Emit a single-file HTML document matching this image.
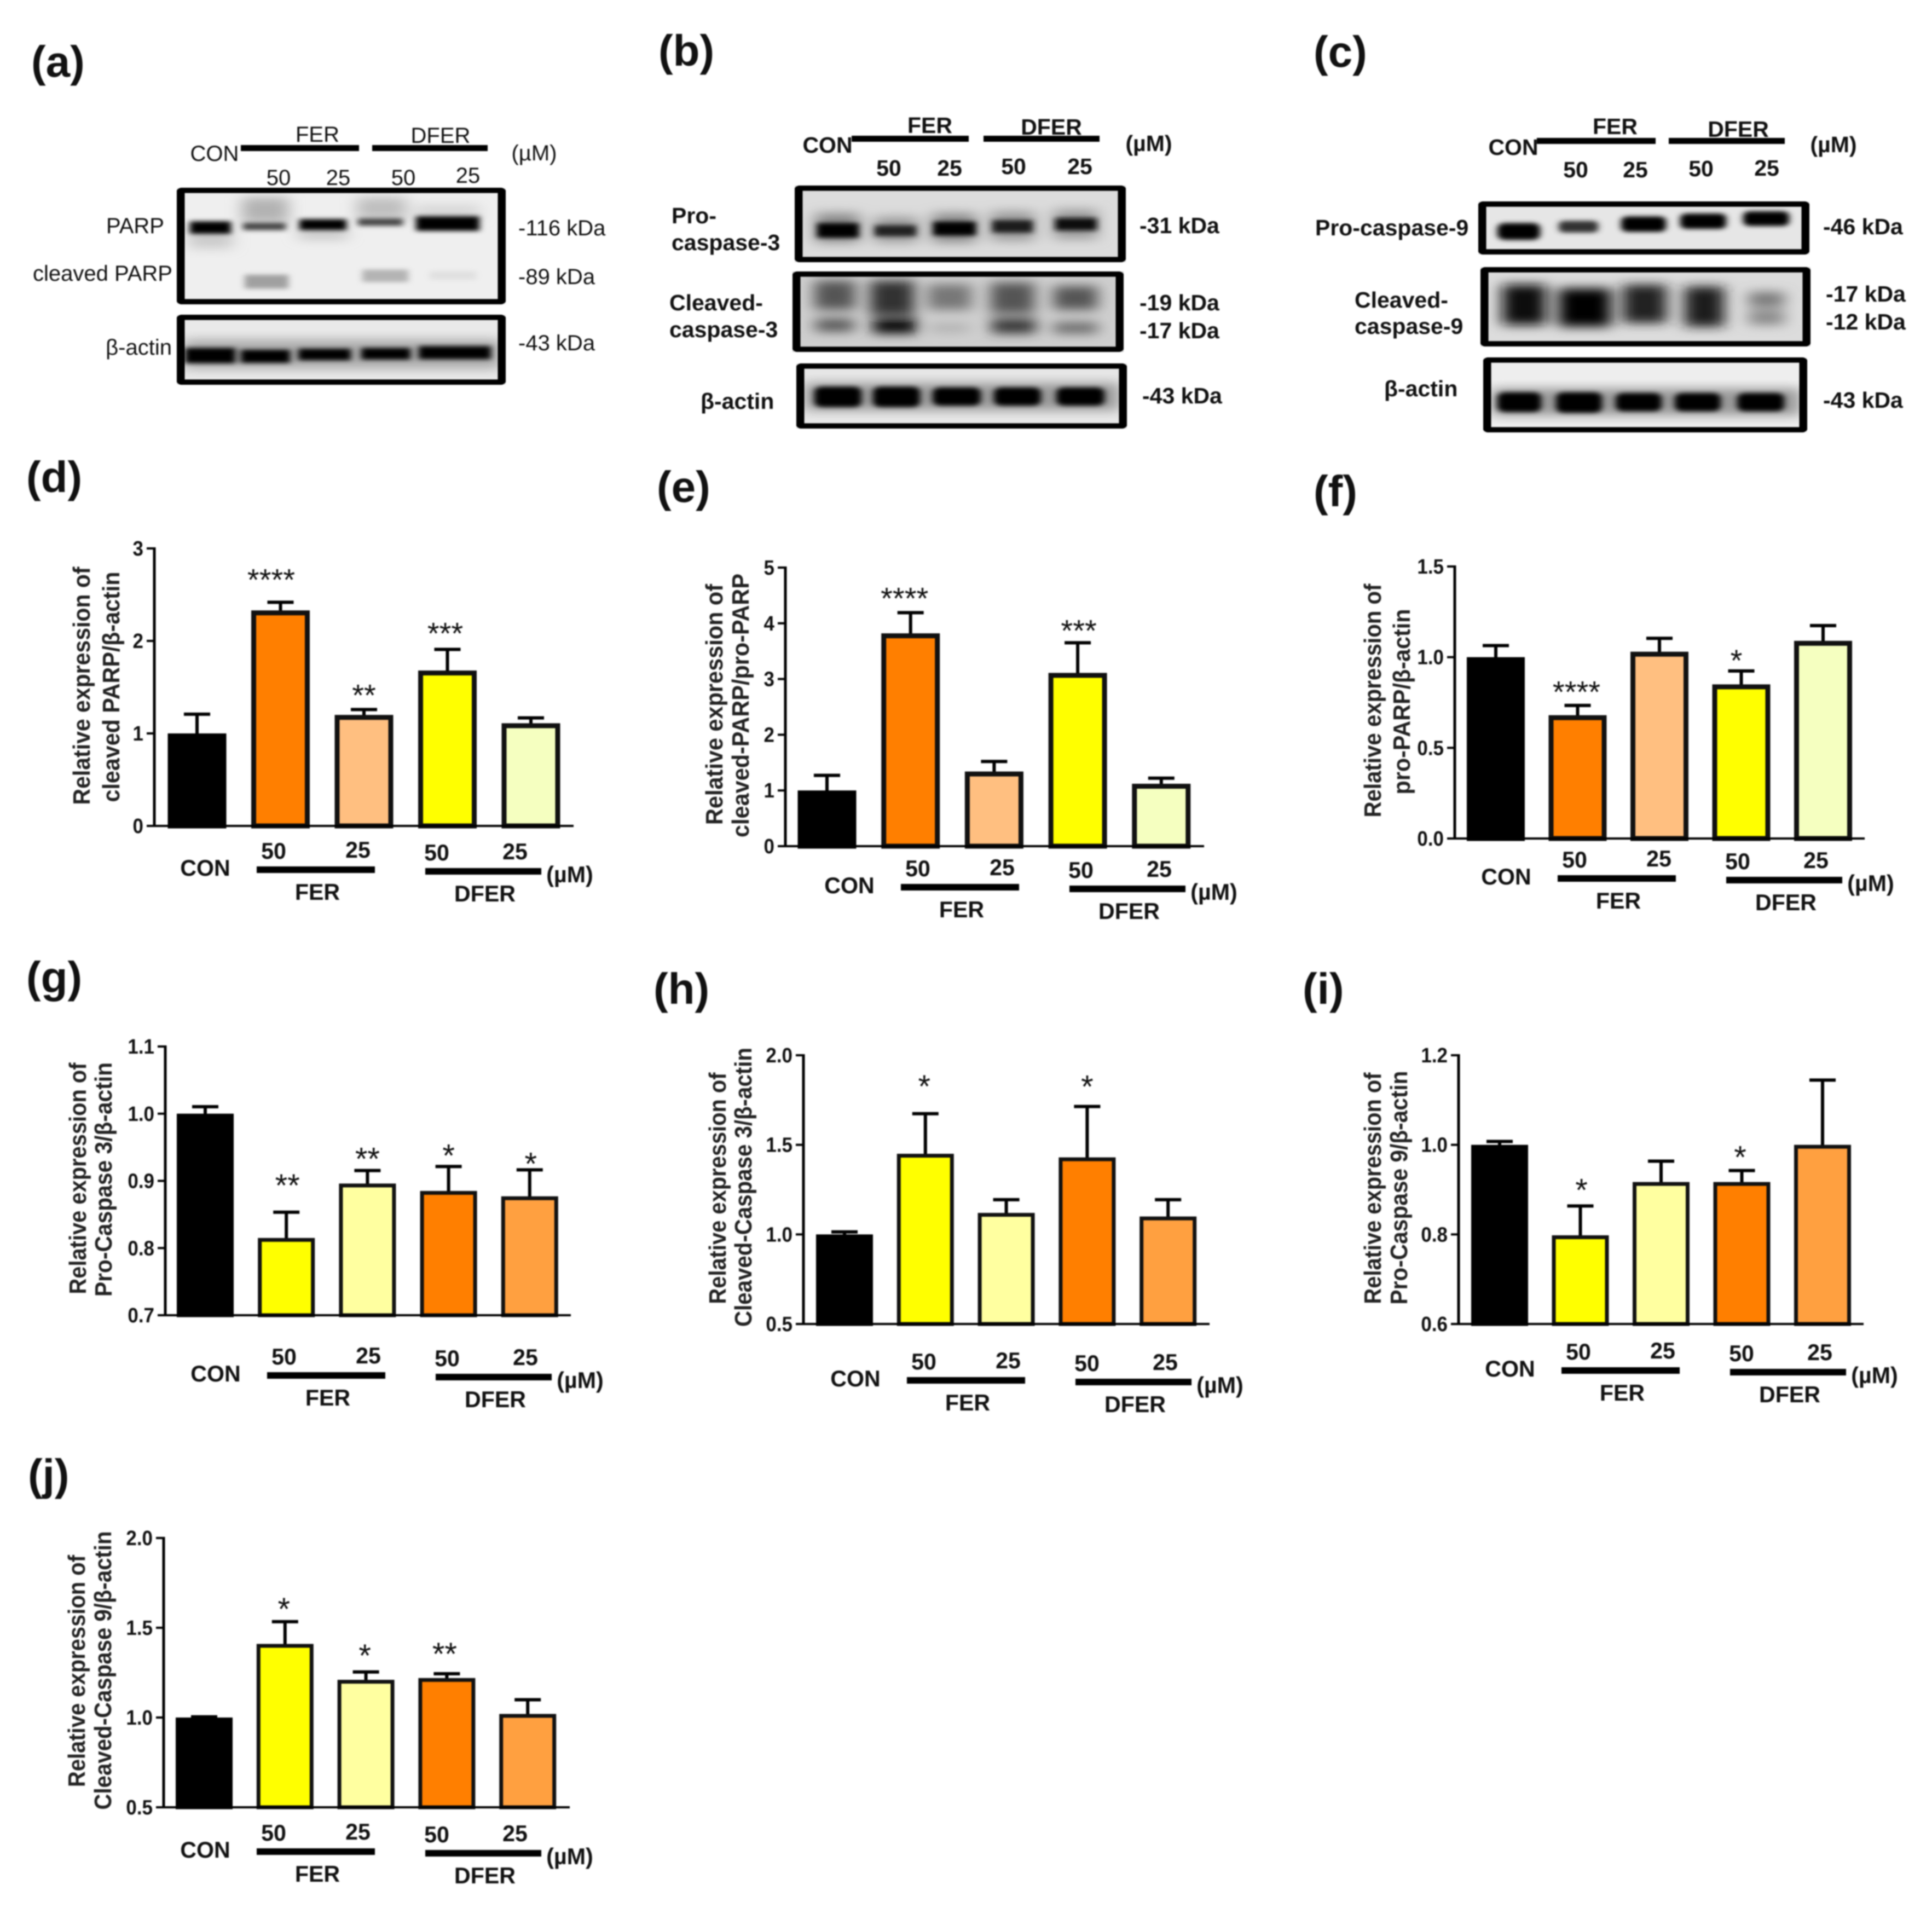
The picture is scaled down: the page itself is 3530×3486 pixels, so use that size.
<!DOCTYPE html>
<html lang="en">
<head>
<meta charset="utf-8">
<title>Western blots and relative expression bar charts</title>
<style>
html,body{margin:0;padding:0;background:#fff;}
#figure{display:block;width:3530px;height:3486px;filter:blur(1px);}
text{font-family:"Liberation Sans",sans-serif;fill:#111;}
.letter{font-size:80px;font-weight:bold;}
.r{font-size:40px;}
.b{font-size:41px;font-weight:bold;}
.m{text-anchor:middle;}
.e{text-anchor:end;}
.yt{font-size:44px;font-weight:bold;text-anchor:middle;fill:#222;}
</style>
</head>
<body>
<svg id="figure" xmlns="http://www.w3.org/2000/svg" width="3530" height="3486" viewBox="0 0 3530 3486">
<defs>
<filter id="blur-l" x="-30%" y="-30%" width="160%" height="160%"><feGaussianBlur stdDeviation="14"/></filter>
<filter id="blur-m" x="-30%" y="-60%" width="160%" height="220%"><feGaussianBlur stdDeviation="6"/></filter>
</defs>
<rect width="3530" height="3486" fill="#fff"/>

<!-- panel letters -->
<g>
<text class="letter" x="57" y="140">(a)</text>
<text class="letter" x="1203" y="120">(b)</text>
<text class="letter" x="2400" y="122">(c)</text>
<text class="letter" x="48" y="899">(d)</text>
<text class="letter" x="1200" y="917">(e)</text>
<text class="letter" x="2400" y="925">(f)</text>
<text class="letter" x="48" y="1813">(g)</text>
<text class="letter" x="1194" y="1834">(h)</text>
<text class="letter" x="2380" y="1834">(i)</text>
<text class="letter" x="51" y="2722">(j)</text>
</g>

<!-- panel a -->
<g>
<g>
<text class="r m" x="392" y="294">CON</text>
<text class="r m" x="580" y="259">FER</text>
<text class="r m" x="805" y="261">DFER</text>
<text class="r m" x="976" y="293">(µM)</text>
<text class="r m" x="509" y="338">50</text>
<text class="r m" x="618" y="338">25</text>
<text class="r m" x="737" y="338">50</text>
<text class="r m" x="855" y="334">25</text>
<rect x="440" y="265" width="216" height="11" fill="#000"/>
<rect x="680" y="265" width="211" height="11" fill="#000"/>
</g>
<text class="r e" x="300" y="426">PARP</text>
<text class="r e" x="315" y="513">cleaved PARP</text>
<text class="r e" x="314" y="648">β-actin</text>
<text class="r" x="947" y="430">-116 kDa</text>
<text class="r" x="947" y="519">-89 kDa</text>
<text class="r" x="947" y="640">-43 kDa</text>
<svg x="323" y="343" width="601" height="213" viewBox="323 514 601 319" preserveAspectRatio="none">
<rect x="323" y="514" width="601" height="319" fill="#efefef"/>
<g filter="url(#blur-l)">
<rect x="442" y="540" width="85" height="70" fill="#999" opacity=".7"/>
<rect x="652" y="540" width="90" height="60" fill="#aaa" opacity=".7"/>
<rect x="345" y="630" width="80" height="50" fill="#bbb" opacity=".7"/>
<rect x="545" y="625" width="90" height="30" fill="#bbb" opacity=".8"/>
<rect x="758" y="560" width="118" height="40" fill="#ccc" opacity=".7"/>
</g>
<g filter="url(#blur-m)">
<rect x="347" y="606" width="75" height="34" fill="#000"/>
<rect x="444" y="610" width="78" height="20" fill="#444"/>
<rect x="547" y="600" width="86" height="30" fill="#000"/>
<rect x="654" y="598" width="82" height="20" fill="#444"/>
<rect x="760" y="592" width="116" height="40" fill="#000"/>
<rect x="447" y="752" width="80" height="38" fill="#a0a0a0"/>
<rect x="662" y="738" width="84" height="34" fill="#b4b4b4"/>
<rect x="785" y="742" width="85" height="24" fill="#e0e0e0"/>
</g>
<rect x="330" y="521" width="587" height="305" rx="4" fill="none" stroke="#000" stroke-width="15"/>
</svg>
<svg x="323" y="575" width="601" height="128" viewBox="323 862 601 192" preserveAspectRatio="none">
<rect x="323" y="862" width="601" height="192" fill="#e9e9e9"/>
<rect x="335" y="930" width="580" height="80" fill="#aaa" filter="url(#blur-l)"/>
<g filter="url(#blur-m)">
<rect x="338" y="953" width="92" height="42" fill="#000"/>
<rect x="440" y="958" width="90" height="36" fill="#000"/>
<rect x="545" y="955" width="96" height="32" fill="#000"/>
<rect x="660" y="953" width="90" height="32" fill="#000"/>
<rect x="765" y="948" width="132" height="36" fill="#000"/>
</g>
<rect x="330" y="869" width="587" height="178" rx="4" fill="none" stroke="#000" stroke-width="15"/>
</svg>
</g>

<!-- panel b -->
<g>
<g>
<text class="b m" x="1512" y="279">CON</text>
<text class="b m" x="1699" y="243">FER</text>
<text class="b m" x="1921" y="246">DFER</text>
<text class="b m" x="2099" y="276">(µM)</text>
<text class="b m" x="1624" y="321">50</text>
<text class="b m" x="1735" y="321">25</text>
<text class="b m" x="1852" y="318">50</text>
<text class="b m" x="1973" y="318">25</text>
<rect x="1556" y="248" width="214" height="11" fill="#000"/>
<rect x="1797" y="248" width="212" height="11" fill="#000"/>
</g>
<text class="b" x="1227" y="408">Pro-</text>
<text class="b" x="1227" y="457">caspase-3</text>
<text class="b" x="1223" y="567">Cleaved-</text>
<text class="b" x="1223" y="616">caspase-3</text>
<text class="b" x="1280" y="747">β-actin</text>
<text class="b" x="2082" y="426">-31 kDa</text>
<text class="b" x="2082" y="567">-19 kDa</text>
<text class="b" x="2082" y="618">-17 kDa</text>
<text class="b" x="2087" y="737">-43 kDa</text>
<svg x="1452" y="339" width="605" height="140" viewBox="1452 509 605 210" preserveAspectRatio="none">
<rect x="1452" y="509" width="605" height="210" fill="#dcdcdc"/>
<g filter="url(#blur-l)">
<rect x="1490" y="585" width="80" height="80" fill="#888"/>
<rect x="1597" y="595" width="80" height="70" fill="#999"/>
<rect x="1703" y="585" width="80" height="80" fill="#888"/>
<rect x="1810" y="580" width="80" height="80" fill="#999"/>
<rect x="1925" y="575" width="80" height="80" fill="#999"/>
</g>
<g filter="url(#blur-m)">
<rect x="1493" y="612" width="76" height="40" fill="#000"/>
<rect x="1598" y="618" width="76" height="30" fill="#222"/>
<rect x="1705" y="608" width="78" height="38" fill="#000"/>
<rect x="1813" y="604" width="74" height="34" fill="#1c1c1c"/>
<rect x="1928" y="598" width="76" height="34" fill="#111"/>
</g>
<rect x="1459" y="516" width="591" height="196" rx="4" fill="none" stroke="#000" stroke-width="15"/>
</svg>
<svg x="1448" y="496" width="605" height="147" viewBox="1448 745 605 221" preserveAspectRatio="none">
<rect x="1448" y="745" width="605" height="221" fill="#cfcfcf"/>
<g filter="url(#blur-l)">
<rect x="1488" y="770" width="75" height="80" fill="#555"/>
<rect x="1590" y="770" width="80" height="95" fill="#333"/>
<rect x="1695" y="780" width="80" height="70" fill="#777"/>
<rect x="1810" y="775" width="80" height="85" fill="#555"/>
<rect x="1925" y="785" width="80" height="65" fill="#555"/>
<rect x="1490" y="875" width="70" height="35" fill="#555"/>
<rect x="1595" y="875" width="80" height="40" fill="#000"/>
<rect x="1700" y="890" width="70" height="20" fill="#aaa"/>
<rect x="1812" y="875" width="80" height="40" fill="#333"/>
<rect x="1925" y="885" width="80" height="30" fill="#666"/>
</g>
<rect x="1455" y="752" width="591" height="207" rx="4" fill="none" stroke="#000" stroke-width="15"/>
</svg>
<svg x="1455" y="664" width="604" height="119" viewBox="1455 996 604 179" preserveAspectRatio="none">
<rect x="1455" y="996" width="604" height="179" fill="#e6e6e6"/>
<rect x="1470" y="1050" width="575" height="75" fill="#999" filter="url(#blur-l)"/>
<g filter="url(#blur-m)">
<rect x="1488" y="1060" width="86" height="56" rx="14" fill="#000"/>
<rect x="1595" y="1060" width="86" height="56" rx="14" fill="#000"/>
<rect x="1704" y="1062" width="88" height="50" rx="14" fill="#000"/>
<rect x="1816" y="1062" width="86" height="50" rx="14" fill="#000"/>
<rect x="1930" y="1062" width="88" height="50" rx="14" fill="#000"/>
</g>
<rect x="1462" y="1003" width="590" height="165" rx="4" fill="none" stroke="#000" stroke-width="15"/>
</svg>
</g>

<!-- panel c -->
<g>
<g>
<text class="b m" x="2765" y="283">CON</text>
<text class="b m" x="2951" y="245">FER</text>
<text class="b m" x="3176" y="250">DFER</text>
<text class="b m" x="3350" y="278">(µM)</text>
<text class="b m" x="2879" y="324">50</text>
<text class="b m" x="2988" y="324">25</text>
<text class="b m" x="3108" y="322">50</text>
<text class="b m" x="3228" y="321">25</text>
<rect x="2808" y="252" width="217" height="11" fill="#000"/>
<rect x="3049" y="252" width="212" height="11" fill="#000"/>
</g>
<text class="b" x="2403" y="430">Pro-caspase-9</text>
<text class="b" x="2475" y="562">Cleaved-</text>
<text class="b" x="2475" y="610">caspase-9</text>
<text class="b" x="2529" y="724">β-actin</text>
<text class="b" x="3331" y="428">-46 kDa</text>
<text class="b" x="3336" y="551">-17 kDa</text>
<text class="b" x="3336" y="602">-12 kDa</text>
<text class="b" x="3331" y="745">-43 kDa</text>
<svg x="2701" y="368" width="605" height="97" viewBox="2701 553 605 145" preserveAspectRatio="none">
<rect x="2701" y="553" width="605" height="145" fill="#e6e6e6"/>
<g filter="url(#blur-m)">
<rect x="2736" y="612" width="78" height="46" rx="14" fill="#000"/>
<rect x="2848" y="606" width="72" height="32" rx="10" fill="#333"/>
<rect x="2962" y="594" width="82" height="42" rx="12" fill="#000"/>
<rect x="3070" y="586" width="84" height="42" rx="12" fill="#000"/>
<rect x="3185" y="580" width="84" height="40" rx="12" fill="#000"/>
</g>
<rect x="2708" y="560" width="591" height="131" rx="4" fill="none" stroke="#000" stroke-width="15"/>
</svg>
<svg x="2705" y="488" width="603" height="145" viewBox="2705 732 603 217" preserveAspectRatio="none">
<rect x="2705" y="732" width="603" height="217" fill="#dcdcdc"/>
<g filter="url(#blur-l)">
<rect x="2745" y="780" width="80" height="110" fill="#111"/>
<rect x="2848" y="790" width="95" height="105" fill="#000"/>
<rect x="2965" y="780" width="80" height="105" fill="#222"/>
<rect x="3078" y="785" width="72" height="110" fill="#1a1a1a"/>
<rect x="3195" y="800" width="65" height="40" fill="#777"/>
<rect x="3195" y="850" width="65" height="40" fill="#888"/>
</g>
<rect x="2712" y="739" width="589" height="203" rx="4" fill="none" stroke="#000" stroke-width="15"/>
</svg>
<svg x="2710" y="653" width="592" height="137" viewBox="2710 980 592 206" preserveAspectRatio="none">
<rect x="2710" y="980" width="592" height="206" fill="#eeeeee"/>
<rect x="2725" y="1065" width="565" height="75" fill="#999" filter="url(#blur-l)"/>
<g filter="url(#blur-m)">
<rect x="2736" y="1076" width="80" height="54" rx="14" fill="#000"/>
<rect x="2843" y="1076" width="84" height="56" rx="14" fill="#000"/>
<rect x="2952" y="1078" width="84" height="50" rx="14" fill="#000"/>
<rect x="3060" y="1078" width="84" height="50" rx="14" fill="#000"/>
<rect x="3174" y="1078" width="86" height="50" rx="14" fill="#000"/>
</g>
<rect x="2717" y="987" width="578" height="192" rx="4" fill="none" stroke="#000" stroke-width="15"/>
</svg>
</g>

<!-- y axis titles -->
<g>
<text class="yt" transform="translate(164 1253) rotate(-90)" textLength="435" lengthAdjust="spacingAndGlyphs">Relative expression of</text>
<text class="yt" transform="translate(218 1255) rotate(-90)" textLength="421" lengthAdjust="spacingAndGlyphs">cleaved PARP/β-actin</text>
<text class="yt" transform="translate(1320 1287) rotate(-90)" textLength="440" lengthAdjust="spacingAndGlyphs">Relative expression of</text>
<text class="yt" transform="translate(1368 1289) rotate(-90)" textLength="482" lengthAdjust="spacingAndGlyphs">cleaved-PARP/pro-PARP</text>
<text class="yt" transform="translate(2523 1280) rotate(-90)" textLength="427" lengthAdjust="spacingAndGlyphs">Relative expression of</text>
<text class="yt" transform="translate(2576 1282) rotate(-90)" textLength="339" lengthAdjust="spacingAndGlyphs">pro-PARP/β-actin</text>
<text class="yt" transform="translate(157 2153) rotate(-90)" textLength="423" lengthAdjust="spacingAndGlyphs">Relative expression of</text>
<text class="yt" transform="translate(204 2155) rotate(-90)" textLength="428" lengthAdjust="spacingAndGlyphs">Pro-Caspase 3/β-actin</text>
<text class="yt" transform="translate(1326 2171) rotate(-90)" textLength="423" lengthAdjust="spacingAndGlyphs">Relative expression of</text>
<text class="yt" transform="translate(1373 2169) rotate(-90)" textLength="510" lengthAdjust="spacingAndGlyphs">Cleaved-Caspase 3/β-actin</text>
<text class="yt" transform="translate(2523 2171) rotate(-90)" textLength="423" lengthAdjust="spacingAndGlyphs">Relative expression of</text>
<text class="yt" transform="translate(2571 2170) rotate(-90)" textLength="427" lengthAdjust="spacingAndGlyphs">Pro-Caspase 9/β-actin</text>
<text class="yt" transform="translate(155 3053) rotate(-90)" textLength="424" lengthAdjust="spacingAndGlyphs">Relative expression of</text>
<text class="yt" transform="translate(203 3052) rotate(-90)" textLength="509" lengthAdjust="spacingAndGlyphs">Cleaved-Caspase 9/β-actin</text>
</g>

<g id="charts"></g>
</svg>

<script>
// Shared labels and fills
const conLabel = 'CON';
const groupLabels = ['FER', 'DFER'];
const doseLabels = ['50', '25', '50', '25'];
const unitLabel = '(µM)';
const paletteFerFirst = ['#000000', '#FF7F00', '#FFBF80', '#FFFF00', '#F5FFC0'];
const paletteDferFirst = ['#000000', '#FFFF00', '#FFFFA0', '#FF7F00', '#FFA040'];

// Panel d
const dValues = [1.0, 2.33, 1.2, 1.68, 1.11];
const dUpper = [1.22, 2.43, 1.27, 1.92, 1.18];
const dSig = ['', '****', '**', '***', ''];
const dTicks = [0, 1, 2, 3];
const dTickLabels = ['0', '1', '2', '3'];
// Panel e
const eValues = [1.0, 3.82, 1.34, 3.11, 1.12];
const eUpper = [1.29, 4.21, 1.54, 3.67, 1.24];
const eSig = ['', '****', '', '***', ''];
const eTicks = [0, 1, 2, 3, 4, 5];
const eTickLabels = ['0', '1', '2', '3', '4', '5'];
// Panel f
const fValues = [1.0, 0.68, 1.03, 0.85, 1.09];
const fUpper = [1.07, 0.74, 1.11, 0.93, 1.18];
const fSig = ['', '****', '', '*', ''];
const fTicks = [0, 0.5, 1, 1.5];
const fTickLabels = ['0.0', '0.5', '1.0', '1.5'];
// Panel g
const gValues = [1.0, 0.815, 0.896, 0.885, 0.877];
const gUpper = [1.012, 0.855, 0.917, 0.923, 0.918];
const gSig = ['', '**', '**', '*', '*'];
const gTicks = [0.7, 0.8, 0.9, 1.0, 1.1];
const gTickLabels = ['0.7', '0.8', '0.9', '1.0', '1.1'];
// Panel h
const hValues = [1.0, 1.45, 1.12, 1.43, 1.1];
const hUpper = [1.02, 1.68, 1.2, 1.72, 1.2];
const hSig = ['', '*', '', '*', ''];
const hTicks = [0.5, 1.0, 1.5, 2.0];
const hTickLabels = ['0.5', '1.0', '1.5', '2.0'];
// Panel i
const iValues = [1.0, 0.798, 0.917, 0.917, 1.0];
const iUpper = [1.01, 0.866, 0.966, 0.945, 1.147];
const iSig = ['', '*', '', '*', ''];
const iTicks = [0.6, 0.8, 1.0, 1.2];
const iTickLabels = ['0.6', '0.8', '1.0', '1.2'];
// Panel j
const jValues = [1.0, 1.41, 1.21, 1.22, 1.02];
const jUpper = [1.01, 1.54, 1.26, 1.25, 1.105];
const jSig = ['', '*', '*', '**', ''];
const jTicks = [0.5, 1.0, 1.5, 2.0];
const jTickLabels = ['0.5', '1.0', '1.5', '2.0'];

// Layout of each panel (frame geometry only; marks come from the arrays above)
const panels = [
  {id:'d', values:dValues, upper:dUpper, sig:dSig, ticks:dTicks, tickLabels:dTickLabels, fills:paletteFerFirst,
   left:282, top:1002, bottom:1509, right:1048, first:360, step:152.5, barW:107, stroke:9, dx:0, dy:0, starSize:56,
   starDx:[0,-17,0,-4,0], starGap:[0,52,37,40,0]},
  {id:'e', values:eValues, upper:eUpper, sig:eSig, ticks:eTicks, tickLabels:eTickLabels, fills:paletteFerFirst,
   left:1435, top:1037, bottom:1546, right:2200, first:1511, step:152.7, barW:107, stroke:9, dx:1177, dy:32, starSize:56,
   starDx:[0,-11,0,2,0], starGap:[0,37,0,33,0]},
  {id:'f', values:fValues, upper:fUpper, sig:fSig, ticks:fTicks, tickLabels:fTickLabels, fills:paletteFerFirst,
   left:2658, top:1035, bottom:1532, right:3407, first:2733, step:149.5, barW:106, stroke:9, dx:2377, dy:16, starSize:56,
   starDx:[0,-2,0,-9,0], starGap:[0,35,0,30,0]},
  {id:'g', values:gValues, upper:gUpper, sig:gSig, ticks:gTicks, tickLabels:gTickLabels, fills:paletteDferFirst,
   left:302, top:1912, bottom:2403, right:1043, first:375, step:148.2, barW:104, stroke:7, dx:19, dy:924, starSize:58,
   starDx:[0,2,0,0,2], starGap:[0,60,32,31,22]},
  {id:'h', values:hValues, upper:hUpper, sig:hSig, ticks:hTicks, tickLabels:hTickLabels, fills:paletteDferFirst,
   left:1468, top:1928, bottom:2419, right:2210, first:1543, step:147.8, barW:104, stroke:7, dx:1188, dy:933, starSize:58,
   starDx:[0,-2,0,0,0], starGap:[0,61,0,47,0]},
  {id:'i', values:iValues, upper:iUpper, sig:iSig, ticks:iTicks, tickLabels:iTickLabels, fills:paletteDferFirst,
   left:2665, top:1928, bottom:2419, right:3405, first:2740, step:147.5, barW:104, stroke:7, dx:2384, dy:915, starSize:58,
   starDx:[0,2,0,-3,0], starGap:[0,40,0,35,0]},
  {id:'j', values:jValues, upper:jUpper, sig:jSig, ticks:jTicks, tickLabels:jTickLabels, fills:paletteDferFirst,
   left:299, top:2810, bottom:3302, right:1041, first:373, step:147.8, barW:104, stroke:7, dx:0, dy:1794, starSize:58,
   starDx:[0,-2,-2,-4,0], starGap:[0,34,41,47,0]}
];

const NS = 'http://www.w3.org/2000/svg';
const chartsRoot = document.getElementById('charts');

function make(parent, tag, attrs) {
  const el = document.createElementNS(NS, tag);
  for (const key in attrs) el.setAttribute(key, attrs[key]);
  parent.appendChild(el);
  return el;
}

function yScale(p, v) {
  const lo = p.ticks[0];
  const hi = p.ticks[p.ticks.length - 1];
  return p.bottom - (v - lo) / (hi - lo) * (p.bottom - p.top);
}

function xScale(p, i) {
  return p.first + i * p.step;
}

function label(parent, str, x, y, size, sx, anchor, weight) {
  const t = make(parent, 'text', {
    transform: 'translate(' + x + ' ' + y + ') scale(' + sx + ' 1)',
    'font-size': size, 'font-weight': weight, 'text-anchor': anchor
  });
  t.textContent = str;
  return t;
}

panels.forEach(function (p) {
  const g = make(chartsRoot, 'g', {});
  
  

  // error bars below the bars
  p.values.forEach(function (v, i) {
    const cx = xScale(p, i);
    const yTop = yScale(p, p.upper[i]);
    const stem = make(g, 'line', {x1: cx, x2: cx, y1: yTop, y2: yScale(p, v) + 4, stroke: '#000', 'stroke-width': 6});
    
    
    const cap = make(g, 'line', {x1: cx - 24, x2: cx + 24, y1: yTop + 2, y2: yTop + 2, stroke: '#000', 'stroke-width': 6});
    
    
  });

  // bars
  p.values.forEach(function (v, i) {
    const cx = xScale(p, i);
    const yTop = yScale(p, v);
    const bar = make(g, 'rect', {
      x: cx - p.barW / 2 + p.stroke / 2, y: yTop + p.stroke / 2,
      width: p.barW - p.stroke, height: Math.max(0, p.bottom - yTop - p.stroke / 2),
      fill: p.fills[i], stroke: i === 0 ? '#000' : '#111', 'stroke-width': p.stroke
    });
    
    
  });

  // significance stars
  p.sig.forEach(function (s, i) {
    if (!s) return;
    const cy = yScale(p, p.upper[i]) - p.starGap[i];
    const star = label(g, s, xScale(p, i) + p.starDx[i], cy + p.starSize * 0.57, p.starSize, 1, 'middle', 'normal');
    
    
  });

  // axes
  const yAxis = make(g, 'line', {x1: p.left, x2: p.left, y1: p.top - 2, y2: p.bottom + 2, stroke: '#000', 'stroke-width': 5});
  
  
  const xAxis = make(g, 'line', {x1: p.left - 14, x2: p.right, y1: p.bottom, y2: p.bottom, stroke: '#000', 'stroke-width': 4});
  
  

  p.ticks.forEach(function (t, i) {
    const y = yScale(p, t);
    const tick = make(g, 'line', {x1: p.left - 14, x2: p.left, y1: y, y2: y, stroke: '#000', 'stroke-width': 4});
    
    
    const lab = label(g, p.tickLabels[i], p.left - 20, y + 13, 38, 0.92, 'end', 'bold');
    
    
  });

  // category labels below the axis
  const size = 42, sx = 0.98;
  const con = label(g, conLabel, 375 + p.dx, 1600 + p.dy, size, sx, 'middle', 'bold');
  
  

  const doseX = [500, 654, 798, 941];
  const doseY = [1569, 1567, 1572, 1570];
  doseLabels.forEach(function (d, i) {
    const lab = label(g, d, doseX[i] + p.dx, doseY[i] + p.dy, size, sx, 'middle', 'bold');
    
    
  });

  const ferBar = make(g, 'rect', {x: 469 + p.dx, y: 1583 + p.dy, width: 216, height: 12, fill: '#000'});
  
  
  const dferBar = make(g, 'rect', {x: 777 + p.dx, y: 1586 + p.dy, width: 212, height: 12, fill: '#000'});
  
  

  const fer = label(g, groupLabels[0], 580 + p.dx, 1644 + p.dy, size, sx, 'middle', 'bold');
  
  
  const dfer = label(g, groupLabels[1], 886 + p.dx, 1647 + p.dy, size, sx, 'middle', 'bold');
  
  
  const unit = label(g, unitLabel, 1041 + p.dx, 1612 + p.dy, size, sx, 'middle', 'bold');
  
  
});
</script>
</body>
</html>
